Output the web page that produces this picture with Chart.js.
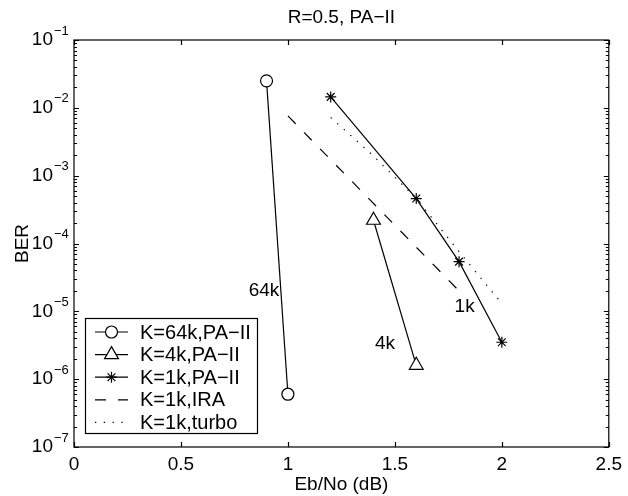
<!DOCTYPE html>
<html>
<head>
<meta charset="utf-8">
<script src="https://cdn.jsdelivr.net/npm/chart.js@4/dist/chart.umd.min.js"></script>
<style>
  html, body { margin: 0; padding: 0; background: #fff; }
  #wrap { width: 628px; height: 496px; }
</style>
</head>
<body>
<div id="wrap"><canvas id="c" width="628" height="496"></canvas></div>
<script>
// ---- data ----
const xTickValues = [0, 0.5, 1, 1.5, 2, 2.5];
const yTickValues = [1e-7, 1e-6, 1e-5, 1e-4, 1e-3, 1e-2, 1e-1];
const yTickBase = '10';
const yTickExponents = ['\u22127', '\u22126', '\u22125', '\u22124', '\u22123', '\u22122', '\u22121'];

const ebno64k = [0.9, 1.0];
const ber64k = [0.025, 6e-7];

const ebno4k = [1.4, 1.6];
const ber4k = [2.2e-4, 1.6e-6];

const ebno1k = [1.2, 1.6, 1.8, 2.0];
const ber1k = [1.45e-2, 4.6e-4, 5.4e-5, 3.5e-6];

const ebnoIRA = [1.0, 1.8];
const berIRA = [7.6e-3, 2.0e-5];

const ebnoTurbo = [1.2, 1.4, 1.6, 1.8, 2.0];
const berTurbo = [7.2e-3, 1.95e-3, 4.6e-4, 7.6e-5, 1.3e-5];

const seriesNames = ['K=64k,PA\u2212II', 'K=4k,PA\u2212II', 'K=1k,PA\u2212II', 'K=1k,IRA', 'K=1k,turbo'];

const curveLabels = ['64k', '4k', '1k'];
const curveLabelX = [0.888, 1.454, 1.826];
const curveLabelY = [1.98e-5, 3.3e-6, 1.17e-5];

const FONT = '"Liberation Sans", Arial, Helvetica, sans-serif';
const FS = 19;
const pts = (xs, ys) => xs.map((x, i) => ({ x: x, y: ys[i] }));

const base = { borderColor: '#000', borderWidth: 1.2, pointBorderColor: '#000', pointBackgroundColor: '#fff', pointBorderWidth: 1.2, fill: false, tension: 0 };

const datasets = [
  Object.assign({}, base, { label: seriesNames[0], data: pts(ebno64k, ber64k), pointStyle: 'circle', pointRadius: 6 }),
  Object.assign({}, base, { label: seriesNames[1], data: pts(ebno4k, ber4k), pointStyle: 'triangle', pointRadius: 8 }),
  Object.assign({}, base, { label: seriesNames[2], data: pts(ebno1k, ber1k), pointStyle: 'star', pointRadius: 5.5 }),
  Object.assign({}, base, { label: seriesNames[3], data: pts(ebnoIRA, berIRA), pointRadius: 0, borderDash: [11, 12], borderWidth: 1.2 }),
  Object.assign({}, base, { label: seriesNames[4], data: pts(ebnoTurbo, berTurbo), pointRadius: 0, borderDash: [1.3, 7.5], borderWidth: 1.2 })
];

const framePlugin = {
  id: 'frame',
  afterDatasetsDraw(chart) {
    const ctx = chart.ctx, a = chart.chartArea;
    const xs = chart.scales.x, ys = chart.scales.y;
    ctx.save();
    ctx.strokeStyle = '#000';
    ctx.lineWidth = 1.2;
    ctx.strokeRect(a.left, a.top, a.right - a.left, a.bottom - a.top);
    ctx.beginPath();
    xTickValues.forEach(v => {
      const px = Math.round(xs.getPixelForValue(v)) + 0.5;
      ctx.moveTo(px, a.bottom); ctx.lineTo(px, a.bottom - 5);
      ctx.moveTo(px, a.top); ctx.lineTo(px, a.top + 5);
    });
    for (let e = -7; e <= -1; e++) {
      for (let m = 1; m <= 9; m++) {
        const v = m * Math.pow(10, e);
        if (v > 0.1 * 1.0001) break;
        const py = Math.round(ys.getPixelForValue(v)) + 0.5;
        const len = m === 1 ? 5 : 3;
        ctx.moveTo(a.left, py); ctx.lineTo(a.left + len, py);
        ctx.moveTo(a.right, py); ctx.lineTo(a.right - len, py);
      }
    }
    ctx.stroke();

    // exponents of the y tick labels
    ctx.fillStyle = '#000';
    ctx.font = '13px ' + FONT;
    ctx.textAlign = 'left';
    ctx.textBaseline = 'middle';
    yTickValues.forEach((v, i) => {
      ctx.fillText(yTickExponents[i], a.left - 20, ys.getPixelForValue(v) - 9);
    });

    // curve labels
    ctx.font = FS + 'px ' + FONT;
    ctx.textAlign = 'center';
    ctx.textBaseline = 'middle';
    curveLabels.forEach((t, i) => {
      ctx.fillText(t, xs.getPixelForValue(curveLabelX[i]), ys.getPixelForValue(curveLabelY[i]));
    });

    // legend box (MATLAB style)
    const lx = 85, ly = 318, lw = 172, lh = 115, row = 22.6;
    ctx.fillStyle = '#fff';
    ctx.fillRect(lx, ly, lw, lh);
    ctx.strokeStyle = '#000';
    ctx.lineWidth = 1.2;
    ctx.strokeRect(lx + 0.5, ly + 0.5, lw, lh);
    chart.data.datasets.forEach((ds, i) => {
      const cy = ly + 14 + i * row;
      ctx.save();
      ctx.strokeStyle = ds.borderColor;
      ctx.lineWidth = ds.borderWidth;
      ctx.setLineDash(ds.borderDash || []);
      ctx.beginPath();
      ctx.moveTo(lx + 10, cy); ctx.lineTo(lx + 43, cy);
      ctx.stroke();
      ctx.restore();
      if (ds.pointRadius > 0) {
        ctx.save();
        ctx.strokeStyle = ds.pointBorderColor;
        ctx.fillStyle = ds.pointBackgroundColor;
        ctx.lineWidth = ds.pointBorderWidth;
        Chart.helpers.drawPoint(ctx, { pointStyle: ds.pointStyle, radius: ds.pointRadius, rotation: 0, borderWidth: ds.pointBorderWidth }, lx + 26.5, cy);
        ctx.restore();
      }
      ctx.fillStyle = '#000';
      ctx.font = '20px ' + FONT;
      ctx.textAlign = 'left';
      ctx.textBaseline = 'middle';
      ctx.fillText(ds.label, lx + 55, cy + 1);
    });
    ctx.restore();
  }
};

new Chart(document.getElementById('c'), {
  type: 'line',
  data: { datasets: datasets },
  options: {
    responsive: false,
    animation: false,
    devicePixelRatio: 1,
    layout: { padding: { left: 0, right: 17, top: 0, bottom: 0 } },
    plugins: {
      legend: { display: false },
      tooltip: { enabled: false },
      title: {
        display: true, text: 'R=0.5, PA\u2212II', fullSize: false, color: '#000',
        font: { family: FONT, size: FS, weight: 'normal' },
        padding: { top: 6, bottom: 11.2 }
      }
    },
    scales: {
      x: {
        type: 'linear', min: 0, max: 2.5,
        afterBuildTicks: s => { s.ticks = xTickValues.map(v => ({ value: v })); },
        afterFit: s => { s.height = 49; },
        grid: { display: false, drawTicks: false },
        border: { display: false },
        ticks: { color: '#000', padding: 6, font: { family: FONT, size: FS }, maxRotation: 0, autoSkip: false,
          callback: v => String(v) },
        title: { display: true, text: 'Eb/No (dB)', color: '#000', font: { family: FONT, size: FS }, padding: { top: 0, bottom: 0 } }
      },
      y: {
        type: 'logarithmic', min: 1e-7, max: 1e-1,
        afterBuildTicks: s => { s.ticks = yTickValues.map(v => ({ value: v })); },
        afterFit: s => { s.width = 74; },
        grid: { display: false, drawTicks: false },
        border: { display: false },
        ticks: { color: '#000', padding: 21, font: { family: FONT, size: FS }, autoSkip: false,
          callback: () => yTickBase },
        title: { display: true, text: 'BER', color: '#000', font: { family: FONT, size: FS }, padding: { top: 11, bottom: 0 } }
      }
    }
  },
  plugins: [framePlugin]
});
</script>
</body>
</html>
